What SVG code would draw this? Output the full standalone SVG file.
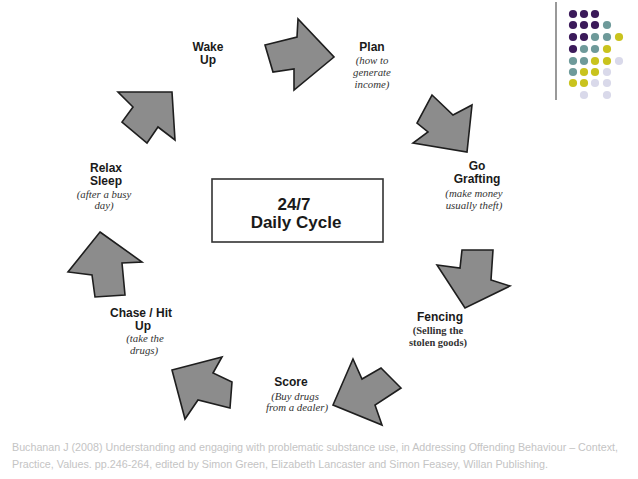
<svg xmlns="http://www.w3.org/2000/svg" width="638" height="479" viewBox="0 0 638 479">
<style>
.arr{fill:#8c8c8c;stroke:#1e1e1e;stroke-width:1.6;stroke-linejoin:miter}
.t{font-family:"Liberation Sans",Arial,sans-serif;font-weight:bold;font-size:12px;fill:#1a1a1a;text-anchor:middle}
.s{font-family:"Liberation Serif","Times New Roman",serif;font-style:italic;font-size:10.8px;fill:#333;text-anchor:middle}
.r{font-family:"Liberation Serif","Times New Roman",serif;font-weight:bold;font-size:10.5px;fill:#333;text-anchor:middle}
.c{font-family:"Liberation Sans",Arial,sans-serif;font-size:10.5px;fill:#c4c4c4}
.big{font-family:"Liberation Sans",Arial,sans-serif;font-weight:bold;font-size:17px;fill:#1a1a1a;text-anchor:middle}
.P{fill:#3b1a5a}.T{fill:#6e9a9a}.Y{fill:#c9c31e}.L{fill:#d9d9ea}
</style>
<rect width="638" height="479" fill="#fff"/>
<g id="decor">
<line x1="556" y1="2" x2="556" y2="100" stroke="#555" stroke-width="1.2"/>
<g>
<circle class="P" cx="573" cy="14" r="4.1"/><circle class="P" cx="584" cy="14" r="4.1"/><circle class="P" cx="595" cy="14" r="4.1"/>
<circle class="P" cx="573" cy="25" r="4.1"/><circle class="P" cx="584" cy="25" r="4.1"/><circle class="P" cx="595" cy="25" r="4.1"/><circle class="T" cx="607" cy="25" r="4.1"/>
<circle class="P" cx="573" cy="37" r="4.1"/><circle class="P" cx="584" cy="37" r="4.1"/><circle class="T" cx="595" cy="37" r="4.1"/><circle class="T" cx="607" cy="37" r="4.1"/><circle class="Y" cx="619" cy="37" r="4.1"/>
<circle class="P" cx="573" cy="49" r="4.1"/><circle class="T" cx="584" cy="49" r="4.1"/><circle class="T" cx="595" cy="49" r="4.1"/><circle class="Y" cx="607" cy="49" r="4.1"/>
<circle class="T" cx="573" cy="61" r="4.1"/><circle class="T" cx="584" cy="61" r="4.1"/><circle class="Y" cx="595" cy="61" r="4.1"/><circle class="Y" cx="607" cy="61" r="4.1"/><circle class="L" cx="619" cy="61" r="4.1"/>
<circle class="T" cx="573" cy="72" r="4.1"/><circle class="Y" cx="584" cy="72" r="4.1"/><circle class="Y" cx="595" cy="72" r="4.1"/><circle class="L" cx="607" cy="72" r="4.1"/>
<circle class="Y" cx="573" cy="83" r="4.1"/><circle class="Y" cx="584" cy="83" r="4.1"/><circle class="L" cx="595" cy="83" r="4.1"/><circle class="L" cx="607" cy="83" r="4.1"/>
<circle class="L" cx="584" cy="95" r="4.1"/><circle class="L" cx="607" cy="95" r="4.1"/>
</g>
</g>
<g id="center">
<rect x="212" y="179" width="171" height="63" fill="#fff" stroke="#333" stroke-width="1.6"/>
<text class="big" x="294" y="210">24/7</text>
<text class="big" x="296" y="228">Daily Cycle</text>
</g>
<g id="connectors">
<polygon class="arr" points="265,45 297,37 298,19 334,57 294,90 294,69 273,72"/>
<polygon class="arr" points="432,95 453,115 472,105 467,152 413,143 428,132 417,123"/>
<polygon class="arr" points="462,250 493,250 491,280 510,286 465,308 437,265 460,268"/>
<polygon class="arr" points="353,359 362,379 381,368 401,388 375,405 382,425 333,405"/>
<polygon class="arr" points="172,370 222,357 213,373 232,382 230,408 198,400 185,419"/>
<polygon class="arr" points="100,232 142,262 122,263 125,295 95,297 92,275 68,272"/>
<polygon class="arr" points="118,92 172,92 175,140 158,127 147,143 122,122 133,107"/>
</g>
<g id="wake">
<text class="t" x="208" y="51">Wake</text>
<text class="t" x="208" y="64">Up</text>
</g>
<g id="plan">
<text class="t" x="372" y="51">Plan</text>
<text class="s" x="372" y="64">(how to</text>
<text class="s" x="372" y="76">generate</text>
<text class="s" x="372" y="88">income)</text>
</g>
<g id="grafting">
<text class="t" x="477" y="170">Go</text>
<text class="t" x="477" y="183">Grafting</text>
<text class="s" x="474" y="197">(make money</text>
<text class="s" x="474" y="209">usually theft)</text>
</g>
<g id="fencing">
<text class="t" x="440" y="321">Fencing</text>
<text class="r" x="438" y="334">(Selling the</text>
<text class="r" x="438" y="346">stolen goods)</text>
</g>
<g id="score">
<text class="t" x="291" y="386">Score</text>
<text class="s" x="295" y="400">(Buy drugs</text>
<text class="s" x="297" y="411">from a dealer)</text>
</g>
<g id="chase">
<text class="t" x="141" y="317">Chase / Hit</text>
<text class="t" x="143" y="330">Up</text>
<text class="s" x="145" y="342">(take the</text>
<text class="s" x="144" y="354">drugs)</text>
</g>
<g id="relax">
<text class="t" x="106" y="172">Relax</text>
<text class="t" x="106" y="185">Sleep</text>
<text class="s" x="104" y="198">(after a busy</text>
<text class="s" x="104" y="209">day)</text>
</g>
<g id="citation">
<text class="c" x="12" y="451" textLength="606" lengthAdjust="spacingAndGlyphs">Buchanan J (2008) Understanding and engaging with problematic substance use, in Addressing Offending Behaviour – Context,</text>
<text class="c" x="12" y="468" textLength="536" lengthAdjust="spacingAndGlyphs">Practice, Values. pp.246-264, edited by Simon Green, Elizabeth Lancaster and Simon Feasey, Willan Publishing.</text>
</g>
</svg>
